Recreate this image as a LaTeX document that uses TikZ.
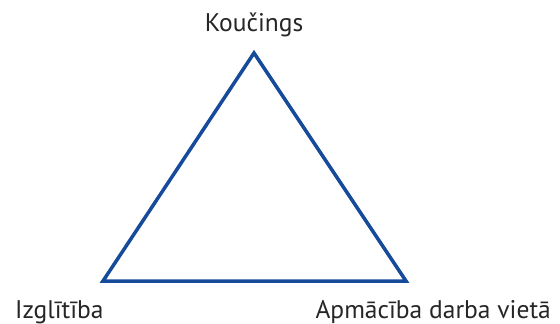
\documentclass[tikz,border=0pt]{standalone}
\usepackage{fontspec}
\setmainfont{PT Sans}
\usetikzlibrary{positioning}
\definecolor{darkblue}{RGB}{22,74,154}

\begin{document}
\begin{tikzpicture}[x=1pt,y=-1pt,every node/.style={font=\fontsize{25.5}{30}\selectfont,text=black!85,inner sep=0pt}]
	\useasboundingbox (0,0) rectangle (560,324);
	\coordinate (top) at (254,53);
	\coordinate (left) at (103,281);
	\coordinate (right) at (406,281);
	\draw[darkblue, line width=3.5pt, line join=miter] (top) -- (left) -- (right) -- cycle;
	\node[anchor=base] (coach) at (254,31) {Koučings};
	\node[anchor=base west] (edu) at (15,318) {Izglītība};
	\node[anchor=base east] (work) at (551,318) {Apmācība darba vietā};
\end{tikzpicture}
\end{document}
